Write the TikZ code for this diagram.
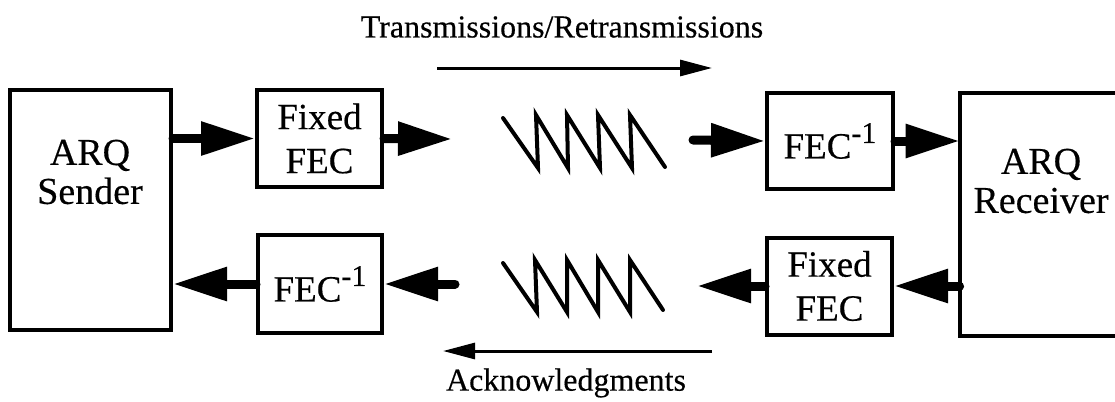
\documentclass[tikz,border=0pt]{standalone}
\usepackage{fontspec}
\setmainfont{Liberation Serif}
\newfontfamily\heavyfont{Liberation Serif}[FakeBold=0.4]
\usetikzlibrary{arrows.meta}
\newcommand{\fecinv}{FEC\raisebox{0.42em}{\fontsize{15}{15}\selectfont -1}}
\tikzset{
  block/.style = {draw=black, line width=2pt, rectangle, inner sep=0pt, align=center,
                  minimum width=62.5pt, minimum height=48.5pt, font=\heavyfont\fontsize{18.5}{22}\selectfont},
  host/.style = {rectangle, inner sep=0pt, minimum width=80.5pt, minimum height=120pt},
  hostlabel/.style = {align=center, font=\heavyfont\fontsize{19}{19.5}\selectfont},
  pipe/.style = {line width=4.5pt, line cap=round, -{Triangle[length=27pt, width=16pt]}},
  wave/.style = {line width=2pt, line join=miter, line cap=round},
  flow/.style = {line width=1.5pt, -{Triangle[length=16pt, width=8pt]}},
  caption/.style = {font=\heavyfont\fontsize{16}{19}\selectfont}
}

\begin{document}
\begin{tikzpicture}[x=0.5pt, y=-0.5pt]
\useasboundingbox (0,0) rectangle (1115,402);

% end systems
\node [host, draw, line width=2pt] (snd) at (90.5,210) {};
\node [host, minimum width=78.5pt, minimum height=121.5pt] (rcv) at (1038.5,214.5) {};
\draw [line width=2pt] (rcv.north east) -- (rcv.north west) -- (rcv.south west) -- (rcv.south east);
\node [hostlabel] (sndlbl) at (90,172) {ARQ\\Sender};
\node [hostlabel] (rcvlbl) at (1041,181) {ARQ\\Receiver};

% coders
\node [block] (fec1) at (319.5,138.5) {Fixed\\FEC};
\node [block, minimum width=63pt, minimum height=48pt] (dec1) at (830,141) {\fecinv};
\node [block] (fec2) at (829.5,286) {Fixed\\FEC};
\node [block, minimum width=62pt, minimum height=49pt] (dec2) at (320,284) {\fecinv};

% noisy channel
\coordinate (in1) at (452,139);
\coordinate (out1) at (693,140);
\coordinate (in2) at (697,286);
\coordinate (out2) at (455,284);
\draw [wave] (503,118) -- (538,168) -- (536,115) -- (568,168) -- (567,115) -- (600,168)
  -- (598,115) -- (632,168) -- (630,115) -- (665,167);
\draw [wave] (503,263) -- (537,312) -- (535,260) -- (567,312) -- (567,260) -- (598,312)
  -- (598,260) -- (630,312) -- (630,260) -- (663,310);

% forward path
\draw [pipe] (snd.east |- fec1.west) -- (fec1.west);
\draw [pipe] (fec1.east) -- (in1);
\draw [pipe] (out1) -- (dec1.west);
\draw [pipe] (dec1.east) -- (rcv.west |- dec1.east);

% return path
\draw [pipe] (rcv.west |- fec2.east) -- (fec2.east);
\draw [pipe] (fec2.west) -- (in2);
\draw [pipe] (out2) -- (dec2.east);
\draw [pipe] (dec2.west) -- (snd.east |- dec2.west);

% direction captions
\node [caption] (txlbl) at (562,27) {Transmissions/Retransmissions};
\coordinate (txa) at (437,68);
\coordinate (txb) at (712,68);
\draw [flow] (txa) -- (txb);
\node [caption] (acklbl) at (566,383) {Acknowledgments};
\coordinate (acka) at (712,351);
\coordinate (ackb) at (443,351);
\draw [flow] (acka) -- (ackb);
\end{tikzpicture}
\end{document}
